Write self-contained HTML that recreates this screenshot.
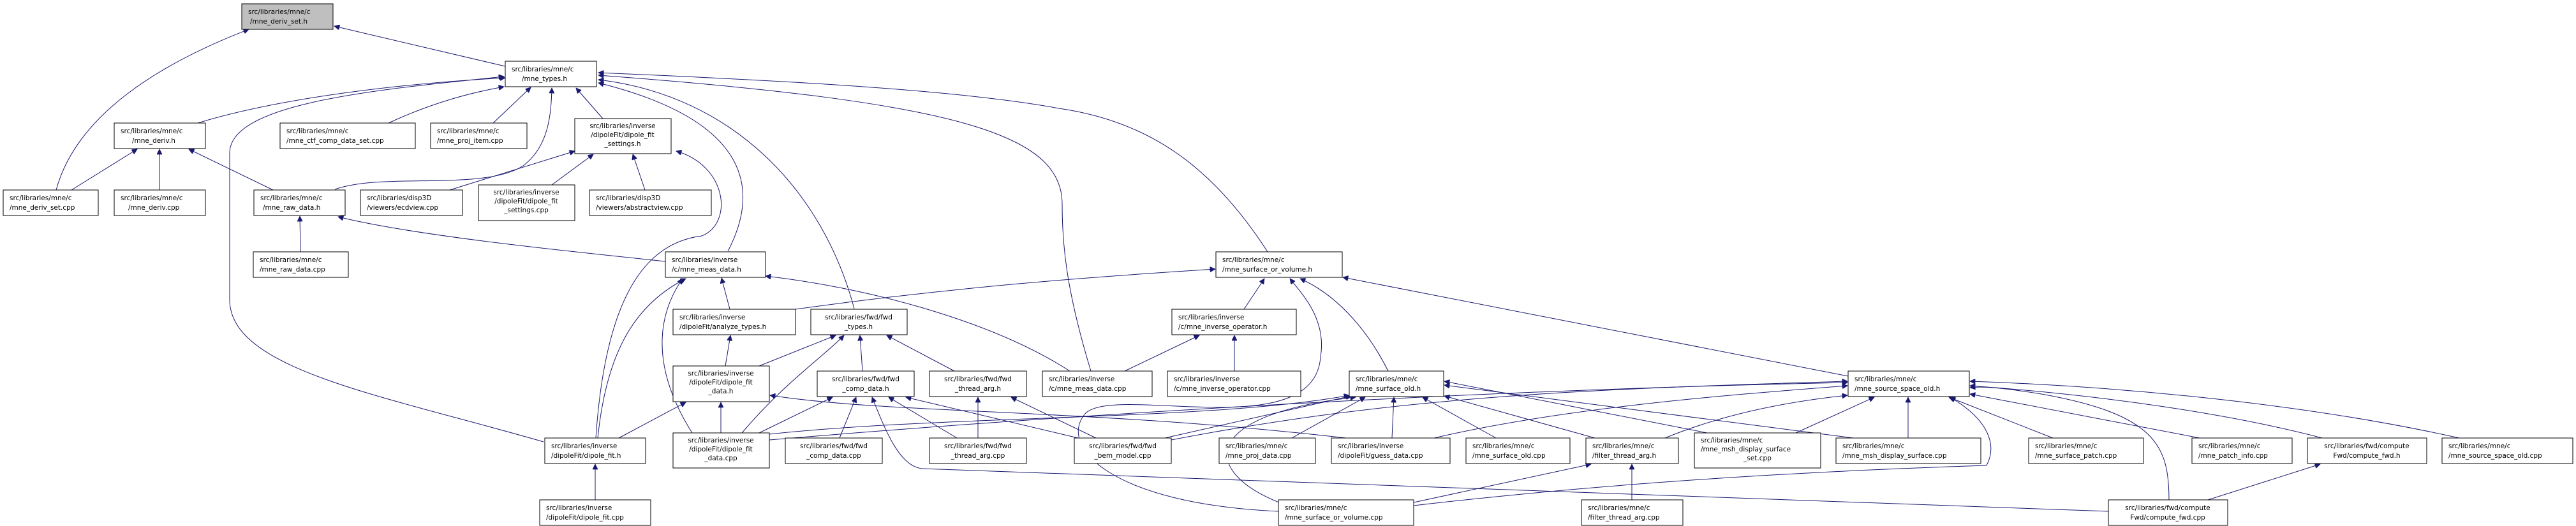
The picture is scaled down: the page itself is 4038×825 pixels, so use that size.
<!DOCTYPE html>
<html><head><meta charset="utf-8"><style>
html,body{margin:0;padding:0;background:#fff;}
svg{display:block;}
text{font-family:"DejaVu Sans","Liberation Sans",sans-serif;font-size:10.5px;fill:#000;}
.n{fill:#fff;stroke:#000;stroke-width:1;}
.g{fill:#bfbfbf;stroke:#000;stroke-width:1;}
.e{fill:none;stroke:#191970;stroke-width:1;marker-end:url(#a);}
</style></head><body>
<svg width="4038" height="825" viewBox="0 0 4038 825" xmlns="http://www.w3.org/2000/svg">
<defs><marker id="a" viewBox="0 0 10 10" refX="10" refY="5" markerWidth="10" markerHeight="8" markerUnits="userSpaceOnUse" orient="auto"><path d="M0,0 L10,5 L0,10 z" fill="#191970" stroke="#191970"/></marker></defs>

<!-- edges -->
<g>
<path class="e" d="M792,104 L524,41"/>
<path class="e" d="M88,298 C120,180 250,100 390,46"/>
<path class="e" d="M310,193 C450,150 650,130 792,122"/>
<path class="e" d="M609,193 C680,160 740,145 790,136"/>
<path class="e" d="M773,193 L832,137"/>
<path class="e" d="M945,186 L903,138"/>
<path class="e" d="M525,297 C600,270 760,300 820,260 C860,230 864,180 865,138"/>
<path class="e" d="M852,693 C600,620 360,580 360,470 L360,240 C360,160 600,140 790,120"/>
<path class="e" d="M1141,394 C1190,300 1180,190 938,130"/>
<path class="e" d="M1339,484 C1290,300 1150,150 938,125"/>
<path class="e" d="M1710,582 C1670,450 1665,380 1665,320 C1665,210 1500,160 938,118"/>
<path class="e" d="M1987,395 C1900,260 1800,190 1660,170 C1500,140 1200,125 938,114"/>
<path class="e" d="M112,298 L215,234"/>
<path class="e" d="M250,298 L250,234"/>
<path class="e" d="M428,298 L296,234"/>
<path class="e" d="M705,298 L901,237"/>
<path class="e" d="M865,290 L930,242"/>
<path class="e" d="M1011,298 L992,242"/>
<path class="e" d="M934,687 C950,450 1020,380 1100,370 C1150,350 1140,260 1060,237"/>
<path class="e" d="M471,395 L470,339"/>
<path class="e" d="M1043,410 C900,395 650,370 530,340"/>
<path class="e" d="M1144,485 L1131,436"/>
<path class="e" d="M937,687 C950,560 990,480 1075,437"/>
<path class="e" d="M1085,679 C1010,560 1040,480 1070,437"/>
<path class="e" d="M1677,582 C1550,500 1350,450 1200,433"/>
<path class="e" d="M1247,485 C1500,450 1700,435 1905,422"/>
<path class="e" d="M1950,485 L1982,437"/>
<path class="e" d="M2004,802 C1740,790 1660,700 1700,650 C1740,600 2060,700 2070,560 C2080,500 2040,460 2022,437"/>
<path class="e" d="M2176,582 C2140,510 2090,460 2038,437"/>
<path class="e" d="M2897,590 L2105,435"/>
<path class="e" d="M1763,582 L1880,526"/>
<path class="e" d="M1935,582 L1935,526"/>
<path class="e" d="M1190,574 L1310,526"/>
<path class="e" d="M1163,679 C1230,600 1290,560 1323,526"/>
<path class="e" d="M1352,582 L1348,526"/>
<path class="e" d="M1496,582 L1390,526"/>
<path class="e" d="M1137,574 L1145,526"/>
<path class="e" d="M970,687 L1075,631"/>
<path class="e" d="M1130,679 L1130,631"/>
<path class="e" d="M2110,687 C1700,640 1400,650 1207,620"/>
<path class="e" d="M1190,679 L1305,623"/>
<path class="e" d="M1316,687 L1342,623"/>
<path class="e" d="M1500,687 L1393,623"/>
<path class="e" d="M1690,687 L1420,623"/>
<path class="e" d="M3305,802 L1445,735 C1410,730 1390,680 1367,623"/>
<path class="e" d="M1533,687 L1533,623"/>
<path class="e" d="M1718,687 L1585,623"/>
<path class="e" d="M1206,681 C1500,650 1900,660 2115,620"/>
<path class="e" d="M1826,687 L2118,621"/>
<path class="e" d="M2025,687 L2140,623"/>
<path class="e" d="M2182,687 L2185,623"/>
<path class="e" d="M2345,687 L2230,623"/>
<path class="e" d="M2500,687 L2264,621"/>
<path class="e" d="M2676,679 L2264,598"/>
<path class="e" d="M2905,687 L2264,604"/>
<path class="e" d="M2010,790 C1880,740 1880,650 2125,623"/>
<path class="e" d="M1206,690 C1800,640 2400,610 2896,600"/>
<path class="e" d="M1836,690 C2200,620 2500,610 2896,598"/>
<path class="e" d="M2248,687 C2450,640 2700,620 2896,605"/>
<path class="e" d="M2610,687 C2700,650 2800,630 2896,620"/>
<path class="e" d="M2815,679 L2938,623"/>
<path class="e" d="M2991,687 L2991,623"/>
<path class="e" d="M3218,687 L3055,623"/>
<path class="e" d="M3448,687 L3088,618"/>
<path class="e" d="M3640,687 C3500,650 3300,620 3088,605"/>
<path class="e" d="M3855,687 C3600,630 3300,605 3088,598"/>
<path class="e" d="M3400,784 C3400,700 3380,650 3200,618 C3150,610 3110,605 3088,608"/>
<path class="e" d="M2216,793 C2500,760 2800,740 3114,730 C3130,700 3120,660 3057,623"/>
<path class="e" d="M2216,788 L2494,728"/>
<path class="e" d="M2558,784 L2558,728"/>
<path class="e" d="M3461,784 L3637,728"/>
<path class="e" d="M933,784 L933,728"/>
</g>

<!-- nodes -->
<g>
<rect class="g" x="379" y="6" width="143" height="40"/>
<text x="389" y="22">src/libraries/mne/c</text><text x="392" y="37">/mne_deriv_set.h</text>

<rect class="n" x="792" y="96" width="143" height="40"/>
<text x="802" y="112">src/libraries/mne/c</text><text x="818" y="127">/mne_types.h</text>

<rect class="n" x="179" y="193" width="143" height="40"/>
<text x="189" y="209">src/libraries/mne/c</text><text x="207" y="224">/mne_deriv.h</text>

<rect class="n" x="439" y="193" width="212" height="40"/>
<text x="449" y="209">src/libraries/mne/c</text><text x="449" y="224">/mne_ctf_comp_data_set.cpp</text>

<rect class="n" x="675" y="193" width="151" height="40"/>
<text x="685" y="209">src/libraries/mne/c</text><text x="685" y="224">/mne_proj_item.cpp</text>

<rect class="n" x="901" y="186" width="151" height="55"/>
<text x="976" y="201" text-anchor="middle">src/libraries/inverse</text><text x="976" y="215" text-anchor="middle">/dipoleFit/dipole_fit</text><text x="976" y="229" text-anchor="middle">_settings.h</text>

<rect class="n" x="5" y="298" width="149" height="40"/>
<text x="15" y="314">src/libraries/mne/c</text><text x="15" y="329">/mne_deriv_set.cpp</text>

<rect class="n" x="179" y="298" width="143" height="40"/>
<text x="189" y="314">src/libraries/mne/c</text><text x="201" y="329">/mne_deriv.cpp</text>

<rect class="n" x="398" y="298" width="143" height="40"/>
<text x="408" y="314">src/libraries/mne/c</text><text x="412" y="329">/mne_raw_data.h</text>

<rect class="n" x="565" y="298" width="160" height="40"/>
<text x="575" y="314">src/libraries/disp3D</text><text x="575" y="329">/viewers/ecdview.cpp</text>

<rect class="n" x="750" y="290" width="151" height="56"/>
<text x="825" y="305" text-anchor="middle">src/libraries/inverse</text><text x="825" y="319" text-anchor="middle">/dipoleFit/dipole_fit</text><text x="825" y="333" text-anchor="middle">_settings.cpp</text>

<rect class="n" x="924" y="298" width="191" height="40"/>
<text x="934" y="314">src/libraries/disp3D</text><text x="934" y="329">/viewers/abstractview.cpp</text>

<rect class="n" x="397" y="395" width="149" height="40"/>
<text x="407" y="411">src/libraries/mne/c</text><text x="407" y="426">/mne_raw_data.cpp</text>

<rect class="n" x="1043" y="395" width="157" height="40"/>
<text x="1053" y="411">src/libraries/inverse</text><text x="1053" y="426">/c/mne_meas_data.h</text>

<rect class="n" x="1906" y="395" width="198" height="40"/>
<text x="1916" y="411">src/libraries/mne/c</text><text x="1916" y="426">/mne_surface_or_volume.h</text>

<rect class="n" x="1055" y="485" width="192" height="40"/>
<text x="1065" y="501">src/libraries/inverse</text><text x="1065" y="516">/dipoleFit/analyze_types.h</text>

<rect class="n" x="1271" y="485" width="151" height="40"/>
<text x="1346" y="501" text-anchor="middle">src/libraries/fwd/fwd</text><text x="1346" y="516" text-anchor="middle">_types.h</text>

<rect class="n" x="1837" y="485" width="195" height="40"/>
<text x="1847" y="501">src/libraries/inverse</text><text x="1847" y="516">/c/mne_inverse_operator.h</text>

<rect class="n" x="1055" y="574" width="151" height="56"/>
<text x="1130" y="589" text-anchor="middle">src/libraries/inverse</text><text x="1130" y="603" text-anchor="middle">/dipoleFit/dipole_fit</text><text x="1130" y="617" text-anchor="middle">_data.h</text>

<rect class="n" x="1281" y="582" width="152" height="40"/>
<text x="1357" y="598" text-anchor="middle">src/libraries/fwd/fwd</text><text x="1357" y="613" text-anchor="middle">_comp_data.h</text>

<rect class="n" x="1457" y="582" width="152" height="40"/>
<text x="1533" y="598" text-anchor="middle">src/libraries/fwd/fwd</text><text x="1533" y="613" text-anchor="middle">_thread_arg.h</text>

<rect class="n" x="1634" y="582" width="172" height="40"/>
<text x="1644" y="598">src/libraries/inverse</text><text x="1644" y="613">/c/mne_meas_data.cpp</text>

<rect class="n" x="1830" y="582" width="209" height="40"/>
<text x="1840" y="598">src/libraries/inverse</text><text x="1840" y="613">/c/mne_inverse_operator.cpp</text>

<rect class="n" x="2115" y="582" width="148" height="40"/>
<text x="2125" y="598">src/libraries/mne/c</text><text x="2125" y="613">/mne_surface_old.h</text>

<rect class="n" x="2897" y="582" width="190" height="40"/>
<text x="2907" y="598">src/libraries/mne/c</text><text x="2907" y="613">/mne_source_space_old.h</text>

<rect class="n" x="854" y="687" width="158" height="40"/>
<text x="864" y="703">src/libraries/inverse</text><text x="864" y="718">/dipoleFit/dipole_fit.h</text>

<rect class="n" x="1055" y="679" width="151" height="55"/>
<text x="1130" y="694" text-anchor="middle">src/libraries/inverse</text><text x="1130" y="708" text-anchor="middle">/dipoleFit/dipole_fit</text><text x="1130" y="722" text-anchor="middle">_data.cpp</text>

<rect class="n" x="1231" y="687" width="152" height="40"/>
<text x="1307" y="703" text-anchor="middle">src/libraries/fwd/fwd</text><text x="1307" y="718" text-anchor="middle">_comp_data.cpp</text>

<rect class="n" x="1457" y="687" width="152" height="40"/>
<text x="1533" y="703" text-anchor="middle">src/libraries/fwd/fwd</text><text x="1533" y="718" text-anchor="middle">_thread_arg.cpp</text>

<rect class="n" x="1684" y="687" width="152" height="40"/>
<text x="1760" y="703" text-anchor="middle">src/libraries/fwd/fwd</text><text x="1760" y="718" text-anchor="middle">_bem_model.cpp</text>

<rect class="n" x="1911" y="687" width="151" height="40"/>
<text x="1921" y="703">src/libraries/mne/c</text><text x="1921" y="718">/mne_proj_data.cpp</text>

<rect class="n" x="2087" y="687" width="186" height="40"/>
<text x="2097" y="703">src/libraries/inverse</text><text x="2097" y="718">/dipoleFit/guess_data.cpp</text>

<rect class="n" x="2298" y="687" width="163" height="40"/>
<text x="2308" y="703">src/libraries/mne/c</text><text x="2308" y="718">/mne_surface_old.cpp</text>

<rect class="n" x="2486" y="687" width="145" height="40"/>
<text x="2496" y="703">src/libraries/mne/c</text><text x="2496" y="718">/filter_thread_arg.h</text>

<rect class="n" x="2656" y="679" width="198" height="55"/>
<text x="2666" y="694">src/libraries/mne/c</text><text x="2666" y="708">/mne_msh_display_surface</text><text x="2755" y="722" text-anchor="middle">_set.cpp</text>

<rect class="n" x="2878" y="687" width="227" height="40"/>
<text x="2888" y="703">src/libraries/mne/c</text><text x="2888" y="718">/mne_msh_display_surface.cpp</text>

<rect class="n" x="3180" y="687" width="180" height="40"/>
<text x="3190" y="703">src/libraries/mne/c</text><text x="3190" y="718">/mne_surface_patch.cpp</text>

<rect class="n" x="3436" y="687" width="157" height="40"/>
<text x="3446" y="703">src/libraries/mne/c</text><text x="3446" y="718">/mne_patch_info.cpp</text>

<rect class="n" x="3617" y="687" width="187" height="40"/>
<text x="3710" y="703" text-anchor="middle">src/libraries/fwd/compute</text><text x="3710" y="718" text-anchor="middle">Fwd/compute_fwd.h</text>

<rect class="n" x="3828" y="687" width="205" height="40"/>
<text x="3838" y="703">src/libraries/mne/c</text><text x="3838" y="718">/mne_source_space_old.cpp</text>

<rect class="n" x="846" y="784" width="174" height="40"/>
<text x="856" y="800">src/libraries/inverse</text><text x="856" y="815">/dipoleFit/dipole_fit.cpp</text>

<rect class="n" x="2004" y="784" width="212" height="40"/>
<text x="2014" y="800">src/libraries/mne/c</text><text x="2014" y="815">/mne_surface_or_volume.cpp</text>

<rect class="n" x="2479" y="784" width="159" height="40"/>
<text x="2489" y="800">src/libraries/mne/c</text><text x="2489" y="815">/filter_thread_arg.cpp</text>

<rect class="n" x="3305" y="784" width="187" height="40"/>
<text x="3398" y="800" text-anchor="middle">src/libraries/fwd/compute</text><text x="3398" y="815" text-anchor="middle">Fwd/compute_fwd.cpp</text>
</g>
</svg>
</body></html>
